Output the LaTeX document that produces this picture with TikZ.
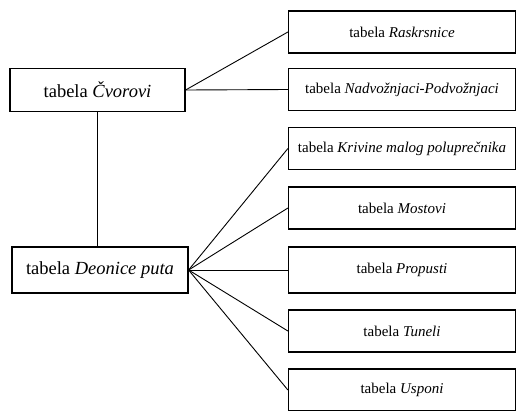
\documentclass[tikz,border=0pt]{standalone}
\usepackage{fontspec}
\setmainfont{Liberation Serif}
\begin{document}
\begin{tikzpicture}[x=1pt, y=-1pt, line width=0.9pt,
  glavna/.style={draw, line width=1.2pt, inner sep=0pt, minimum width=175pt, minimum height=43pt,
    font=\fontsize{18.5}{22}\selectfont},
  tabela/.style={draw, line width=1.2pt, inner sep=0pt, minimum width=227pt, minimum height=42pt,
    font=\fontsize{15}{18}\selectfont}]
  \useasboundingbox (0,0) rectangle (517,410);
  % === glavne tabele ===
  \node[glavna] (cvorovi) at (97.5,90) {tabela \textit{Čvorovi}};
  \node[glavna, minimum width=176pt, minimum height=46pt] (deonice) at (100,270) {tabela \textit{Deonice puta}};
  % === tabele uz Cvorove ===
  \node[tabela] (raskrsnice) at (402,32) {tabela \textit{Raskrsnice}};
  \node[tabela] (nadvoznjaci) at (402,89.5) {tabela \textit{Nadvožnjaci-Podvožnjaci}};
  % === tabele uz Deonice ===
  \node[tabela] (krivine) at (402,148.5) {tabela \textit{Krivine malog poluprečnika}};
  \node[tabela] (mostovi) at (402,208) {tabela \textit{Mostovi}};
  \node[tabela, minimum height=46pt] (propusti) at (402,270) {tabela \textit{Propusti}};
  \node[tabela] (tuneli) at (402,331) {tabela \textit{Tuneli}};
  \node[tabela] (usponi) at (402,390) {tabela \textit{Usponi}};
  % === veze ===
  \draw (cvorovi.south) -- (cvorovi.south |- deonice.north);
  \draw (cvorovi.east) -- (raskrsnice.west);
  \draw (cvorovi.east) -- (nadvoznjaci.west);
  \draw (deonice.east) -- (krivine.west);
  \draw (deonice.east) -- (mostovi.west);
  \draw (deonice.east) -- (propusti.west);
  \draw (deonice.east) -- (tuneli.west);
  \draw (deonice.east) -- (usponi.west);
\end{tikzpicture}
\end{document}
